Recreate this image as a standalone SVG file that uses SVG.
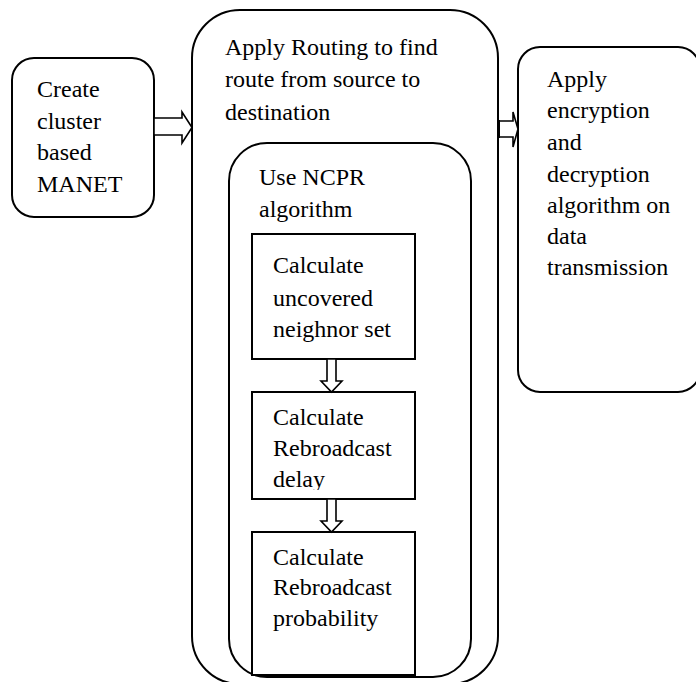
<svg xmlns="http://www.w3.org/2000/svg" width="696" height="682" viewBox="0 0 696 682">
<style>
.box{fill:#fff;stroke:#000;stroke-width:2}
.inner{fill:none;stroke:#000;stroke-width:2}
.t{font-family:"Liberation Serif","Times New Roman",serif;font-size:24px;fill:#000}
.arr{fill:#fff;stroke:#000;stroke-width:1.6;stroke-linejoin:miter}
</style>
<defs>
<clipPath id="clipDelay"><rect x="252" y="392" width="163" height="98"/></clipPath>
</defs>
<rect width="696" height="682" fill="#fff"/>

<g id="node-routing">
<rect class="box" x="192" y="10" width="306" height="674" rx="48" ry="48"/>
<text class="t" x="225" y="55">Apply Routing to find</text>
<text class="t" x="225" y="87">route from source to</text>
<text class="t" x="225" y="120">destination</text>
</g>

<g id="node-ncpr">
<rect class="inner" x="229" y="143" width="242" height="534" rx="38" ry="38"/>
<text class="t" x="259" y="185">Use NCPR</text>
<text class="t" x="259" y="217">algorithm</text>
</g>

<g id="node-create">
<rect class="box" x="12" y="58" width="142" height="159" rx="22" ry="22"/>
<text class="t" x="37" y="97">Create</text>
<text class="t" x="37" y="129">cluster</text>
<text class="t" x="37" y="160">based</text>
<text class="t" x="37" y="192">MANET</text>
</g>

<g id="node-encrypt">
<rect class="box" x="518" y="47" width="182" height="345" rx="22" ry="22"/>
<text class="t" x="547" y="87">Apply</text>
<text class="t" x="547" y="118">encryption</text>
<text class="t" x="547" y="150">and</text>
<text class="t" x="547" y="182">decryption</text>
<text class="t" x="547" y="213">algorithm on</text>
<text class="t" x="547" y="244">data</text>
<text class="t" x="547" y="275">transmission</text>
</g>

<g id="node-uncovered">
<rect class="box" x="252" y="234" width="163" height="125"/>
<text class="t" x="273" y="273">Calculate</text>
<text class="t" x="273" y="306">uncovered</text>
<text class="t" x="273" y="337">neighnor set</text>
</g>

<g id="node-delay">
<rect class="box" x="252" y="392" width="163" height="107"/>
<g clip-path="url(#clipDelay)">
<text class="t" x="273" y="425">Calculate</text>
<text class="t" x="273" y="456">Rebroadcast</text>
<text class="t" x="273" y="487">delay</text>
</g>
</g>

<g id="node-probability">
<rect class="box" x="252" y="532" width="163" height="143"/>
<text class="t" x="273" y="565">Calculate</text>
<text class="t" x="273" y="595">Rebroadcast</text>
<text class="t" x="273" y="626">probability</text>
</g>

<g id="connectors">
<polygon class="arr" points="154,118 182,118 182,112 192,127.5 182,143 182,135 154,135"/>
<polygon class="arr" points="498,121 513,121 513,112 518,129 513,147 513,137 498,137"/>
<line x1="498.5" y1="120" x2="498.5" y2="138" stroke="#000" stroke-width="3"/>
<polygon class="arr" points="327,359 336,359 336,381 342,381 331.5,392 321,381 327,381"/>
<polygon class="arr" points="327,499 336,499 336,521 342,521 331.5,532 321,521 327,521"/>
</g>
</svg>
